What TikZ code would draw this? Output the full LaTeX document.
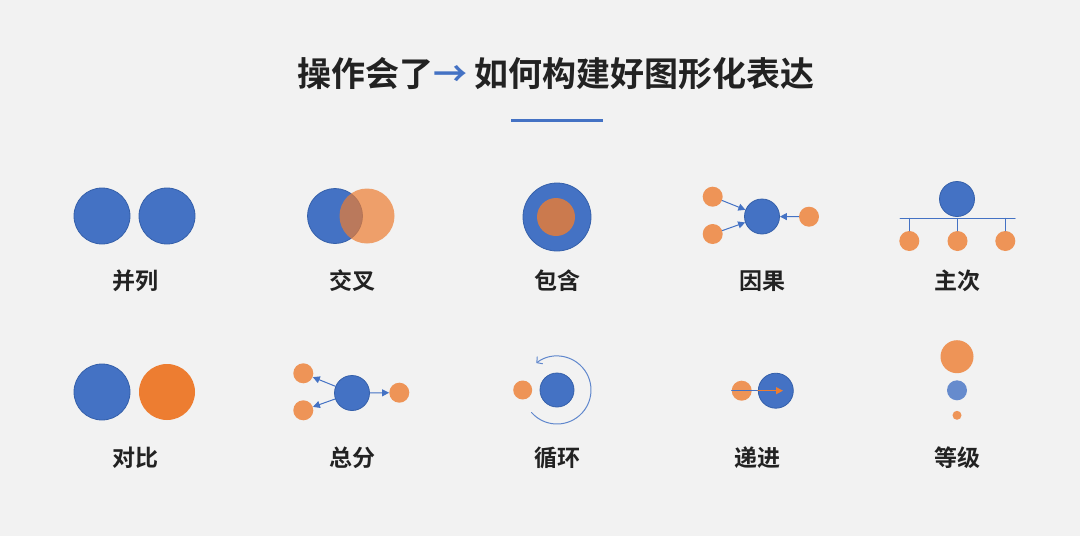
\documentclass[tikz,border=0pt]{standalone}
\usepackage{fontspec}
\newfontfamily\cjk{Noto Sans CJK SC}[BoldFont={Noto Sans CJK SC Bold}]
\usetikzlibrary{arrows.meta}
\definecolor{bg}{HTML}{F2F2F2}
\definecolor{blu}{HTML}{4472C4}
\definecolor{bluedge}{HTML}{3560AA}
\definecolor{org}{HTML}{ED7D31}
\definecolor{ink}{HTML}{222222}
\begin{document}
\begin{tikzpicture}[x=1pt,y=-1pt, line join=round, line cap=round,
	bc/.style={circle, inner sep=0pt, minimum size=#1, fill=blu, draw=bluedge, line width=.8pt},
	oc/.style={circle, inner sep=0pt, minimum size=#1, fill=org, fill opacity=.8},
	lab/.style={font=\cjk\bfseries\fontsize{23}{23}\selectfont, text=ink},
	link/.style={draw=blu, line width=1pt, -{Triangle[length=7pt,width=7pt]}}]
	\path[fill=bg] (0,0) rectangle (1080,536);
	% title
	\node[font=\cjk\bfseries\fontsize{34}{34}\selectfont, text=ink] (title) at (556,74) {操作会了{\color{blu}→} 如何构建好图形化表达};
	\draw[blu, line width=3pt, line cap=butt] (511,120)--(603,120);
	% row 1
	\node[bc=56] (bing1) at (102,216) {};
	\node[bc=56] (bing2) at (167,216) {};
	\node[bc=55] (jiao1) at (335,216) {};
	\node[oc=55, fill opacity=.7] (jiao2) at (367,216) {};
	\node[bc=68] (bao1) at (557,217) {};
	\node[oc=38] (bao2) at (556,217) {};
	\node[bc=35] (yin) at (762,216.5) {};
	\node[oc=20] (yin1) at (712.7,196.7) {};
	\node[oc=20] (yin2) at (712.7,234) {};
	\node[oc=20] (yin3) at (809,216.7) {};
	\draw[link] (yin1)--(yin);
	\draw[link] (yin2)--(yin);
	\draw[link] (yin3)--(yin);
	\node[bc=35] (zhu) at (957,199) {};
	\coordinate (barL) at (900,218.3);
	\coordinate (barR) at (1015,218.3);
	\node[oc=20] (ci1) at (909.3,241) {};
	\node[oc=20] (ci2) at (957.5,241) {};
	\node[oc=20] (ci3) at (1005.3,241) {};
	\draw[blu, line width=1pt] (barL)--(barR);
	\foreach \c in {ci1,ci2,ci3}
		\draw[blu, line width=1pt] (\c |- barL)--(\c.north);
	% row 2
	\node[bc=56] (dui1) at (102,392) {};
	\node[circle, inner sep=0pt, minimum size=56, fill=org] (dui2) at (167,392) {};
	\node[bc=35] (zong) at (352,393) {};
	\node[oc=20] (fen1) at (303.3,373.3) {};
	\node[oc=20] (fen2) at (303.3,410.3) {};
	\node[oc=20] (fen3) at (399.3,392.7) {};
	\draw[link] (zong)--(fen1);
	\draw[link] (zong)--(fen2);
	\draw[link] (zong)--(fen3);
	\node[bc=34] (xun) at (557,390) {};
	\node[oc=19] (xun1) at (522.7,390) {};
	\draw[blu!85!white, line width=1pt, -{Straight Barb[length=4pt,width=9pt]}] (xun.center) ++(138.5:34) arc[start angle=138.5, end angle=-127.5, radius=34];
	\node[oc=20] (di1) at (741.7,390.7) {};
	\node[bc=35] (di2) at (775.8,390.7) {};
	\coordinate (diT) at (783,390.7);
	\draw[blu, line width=1pt] (di1.west)--(di2.west);
	\draw[org, line width=1pt, -{Triangle[length=7pt,width=7pt]}] (di2.west)--(diT);
	\node[oc=33] (deng1) at (957,356.7) {};
	\node[bc=20, draw=none, fill opacity=.8] (deng2) at (957,390.3) {};
	\node[oc=9] (deng3) at (957,415.3) {};
	% labels
	\node[lab] (l1) at (135,281) {并列};
	\node[lab] (l2) at (352,281) {交叉};
	\node[lab] (l3) at (557,281) {包含};
	\node[lab] (l4) at (762,281) {因果};
	\node[lab] (l5) at (957,281) {主次};
	\node[lab] (l6) at (135,458) {对比};
	\node[lab] (l7) at (352,458) {总分};
	\node[lab] (l8) at (557,458) {循环};
	\node[lab] (l9) at (757,458) {递进};
	\node[lab] (l10) at (957,458) {等级};
\end{tikzpicture}
\end{document}
